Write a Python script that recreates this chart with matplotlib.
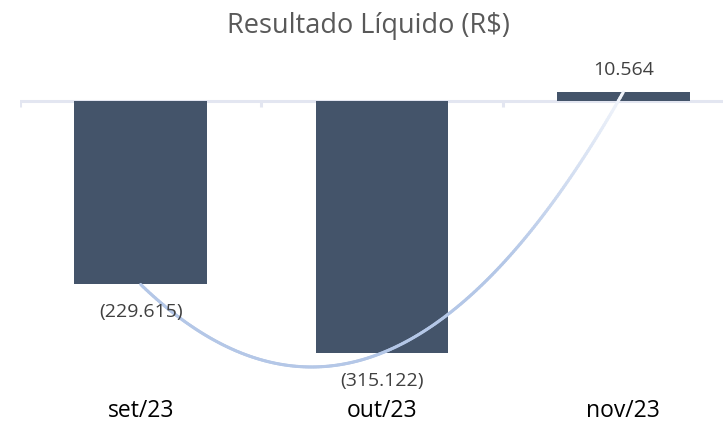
import numpy as np
import matplotlib.pyplot as plt
from matplotlib.collections import LineCollection
from matplotlib.colors import to_rgb

plt.rcParams['font.family'] = ['Open Sans', 'DejaVu Sans']

# resultado líquido por mês
meses = ['set/23', 'out/23', 'nov/23']
resultado = [-229615, -315122, 10564]
rotulos = ['(229.615)', '(315.122)', '10.564']

fig = plt.figure(figsize=(7.23, 4.24), dpi=100)
ax = fig.add_axes([20 / 723, 0.0073, 724 / 723, 0.850])

x = np.arange(len(meses))
ax.bar(x, resultado, width=0.55, color='#44546a', zorder=2)

# eixo zero e marcas entre categorias
ax.axhline(0, color='#e3e6f1', lw=2.2, zorder=1)
for xt in [-0.5, 0.5, 1.5]:
    ax.plot([xt, xt], [0, -7500], color='#e3e6f1', lw=2.2, zorder=1,
            solid_capstyle='butt')

# linha de tendência polinomial (ordem 2), mais clara perto do topo
coef = np.polyfit(x, resultado, 2)
xs = np.linspace(0, 2, 300)
ys = np.polyval(coef, xs)
pts = np.column_stack([xs, ys]).reshape(-1, 1, 2)
segs = np.concatenate([pts[:-1], pts[1:]], axis=1)
c0 = np.array(to_rgb('#b4c7e7'))
c1 = np.array(to_rgb('#f2f5fb'))
frac = np.clip((ys[:-1] + 200000) / 210000, 0, 1)[:, None]
cores = c0 * (1 - frac) + c1 * frac
ax.add_collection(LineCollection(segs, colors=cores, linewidths=2.2, zorder=3,
                                 capstyle='round'))

# rótulos de valor
for xi, v, txt in zip(x, resultado, rotulos):
    off = 16 if v > 0 else -20
    ax.annotate(txt, (xi, v), xytext=(0, off), textcoords='offset points',
                ha='center', va='center', fontsize=14, color='#404040')

# nomes dos meses na base do gráfico
for xi, m in zip(x, meses):
    ax.text(xi, 0.028, m, transform=ax.get_xaxis_transform(), ha='center',
            va='center', fontsize=16.5, color='#000000')

ax.set_xlim(-0.5, 2.5)
ax.set_ylim(-400000, 50000)
ax.axis('off')

fig.text(368 / 723, 1 - 26 / 424, 'Resultado Líquido (R$)', ha='center',
         va='center', fontsize=19.5, color='#595959')

plt.savefig('out.png', dpi=100)
